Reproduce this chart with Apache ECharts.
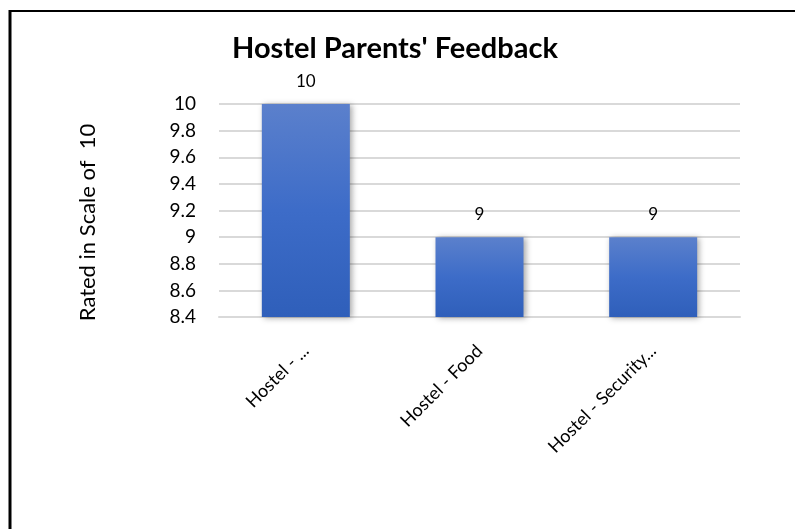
<!DOCTYPE html>
<html>
<head>
<meta charset="utf-8">
<script src="https://cdn.jsdelivr.net/npm/echarts@6/dist/echarts.min.js"></script>
<style>
  html, body { margin: 0; padding: 0; background: #fff; }
  #chartmain { width: 795px; height: 529px; }
</style>
</head>
<body>
<div id="chartmain"></div>
<script>
var categories = ['Hostel - ...', 'Hostel - Food', 'Hostel - Security...'];
var ratings = [10, 9, 9];
var yMin = 8.4, yMax = 10, yStep = 0.2;

var fontName = 'Lato';

var option = {
    backgroundColor: '#fff',
    animation: false,
    title: {
        text: "Hostel Parents' Feedback",
        left: 390,
        top: 29,
        textAlign: 'center',
        textStyle: { fontFamily: fontName, fontWeight: 'bold', fontSize: 29, color: '#000' }
    },
    graphic: [
        { type: 'line', shape: { x1: 9, y1: 11, x2: 795, y2: 11 }, style: { stroke: '#000', lineWidth: 2 } },
        { type: 'line', shape: { x1: 10, y1: 10, x2: 10, y2: 529 }, style: { stroke: '#000', lineWidth: 3 } }
    ],
    grid: { left: 219, right: 55, top: 104, bottom: 212, containLabel: false },
    xAxis: {
        type: 'category',
        data: categories,
        axisLine: { show: true, lineStyle: { color: '#d9d9d9', width: 2 } },
        axisTick: { show: false },
        axisLabel: {
            rotate: 45, interval: 0, margin: 31,
            fontFamily: fontName, fontSize: 18, color: '#000'
        }
    },
    yAxis: {
        type: 'value',
        min: yMin, max: yMax, interval: yStep,
        name: 'Rated in Scale of  10',
        nameLocation: 'middle',
        nameGap: 120,
        nameTextStyle: { fontFamily: fontName, fontSize: 22, color: '#000', padding: [0, 24, 0, 0] },
        axisLine: { show: false },
        axisTick: { show: false },
        splitLine: { lineStyle: { color: '#d9d9d9', width: 2 } },
        axisLabel: {
            margin: 23, fontFamily: fontName, fontSize: 19, color: '#000',
            formatter: function (v) { return +v.toFixed(1) + ''; }
        }
    },
    series: [{
        type: 'bar',
        data: ratings,
        barWidth: 88,
        itemStyle: {
            color: new echarts.graphic.LinearGradient(0, 0, 0, 1, [
                { offset: 0, color: '#5b80cc' },
                { offset: 0.5, color: '#3d6cc8' },
                { offset: 1, color: '#2f5fba' }
            ]),
            shadowColor: 'rgba(0,0,0,0.35)',
            shadowBlur: 6,
            shadowOffsetX: 2,
            shadowOffsetY: 1
        },
        label: {
            show: true, position: 'top', distance: 14,
            fontFamily: fontName, fontSize: 17, color: '#000'
        }
    }]
};

var myChart = echarts.init(document.getElementById('chartmain'));
myChart.setOption(option);
</script>
</body>
</html>
